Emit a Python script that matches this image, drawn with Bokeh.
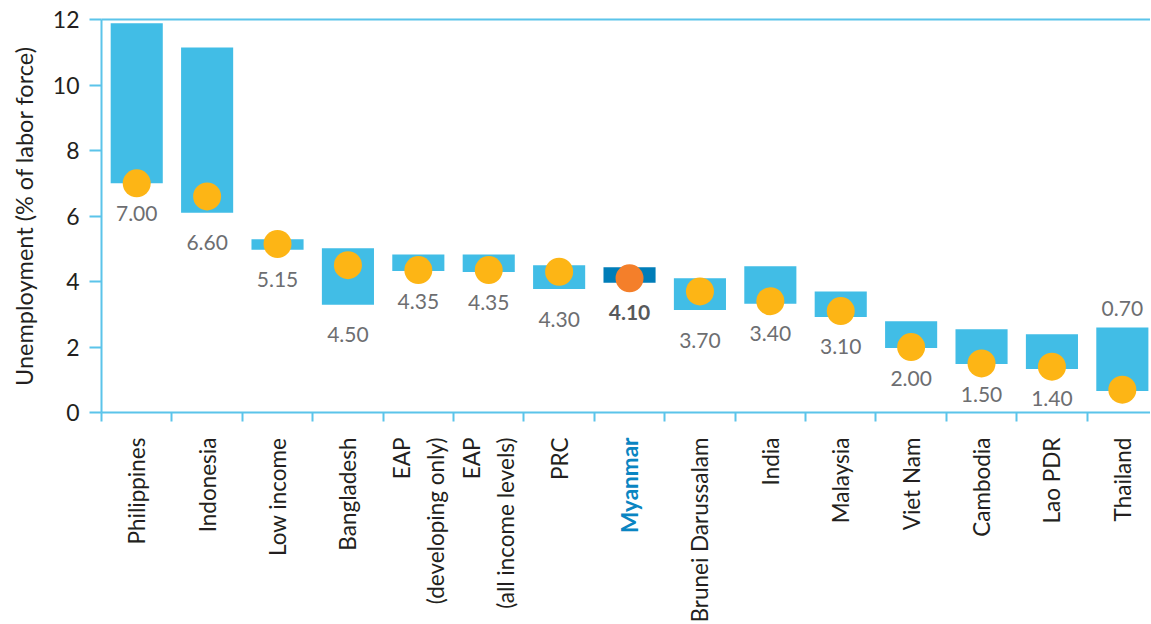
import math
from bokeh.plotting import figure
from bokeh.models import Range1d, FixedTicker, ColumnDataSource
from bokeh.core.properties import value as bval
from bokeh.embed import file_html
from bokeh.resources import INLINE

categories = ["Philippines", "Indonesia", "Low income", "Bangladesh",
              "EAP\n(developing only)", "EAP\n(all income levels)", "PRC",
              "Myanmar", "Brunei Darussalam", "India", "Malaysia", "Viet Nam",
              "Cambodia", "Lao PDR", "Thailand"]
range_low = [7.00, 6.10, 4.97, 3.29, 4.32, 4.29, 3.77, 3.96, 3.13, 3.32, 2.92, 1.97, 1.48, 1.33, 0.66]
range_high = [11.89, 11.15, 5.29, 5.02, 4.83, 4.83, 4.50, 4.44, 4.10, 4.47, 3.70, 2.79, 2.54, 2.39, 2.60]
value = [7.00, 6.60, 5.15, 4.50, 4.35, 4.35, 4.30, 4.10, 3.70, 3.40, 3.10, 2.00, 1.50, 1.40, 0.70]
value_labels = ["7.00", "6.60", "5.15", "4.50", "4.35", "4.35", "4.30", "4.10", "3.70",
                "3.40", "3.10", "2.00", "1.50", "1.40", "0.70"]
y_ticks = [0, 2, 4, 6, 8, 10, 12]
y_title = "Unemployment (% of labor force)"
highlight = "Myanmar"
label_above = {"Thailand"}

FONT = "Lato"
AXIS_BLUE = "#5BC4EA"
BAR = "#41BDE6"
BAR_HI = "#007DB8"
DOT = "#FDB515"
DOT_HI = "#F47F2A"

n = len(categories)
Y_MIN, Y_MAX = 0, 12
X_START, X_END = -1.435, 14.9   # room on the left for the y axis, inside the frame
xc = [i + 0.5 for i in range(n)]
is_hi = [c == highlight for c in categories]
lab_y = [hi if c in label_above else min(lo, v)
         for c, lo, hi, v in zip(categories, range_low, range_high, value)]
lab_off = [-19 if c in label_above else 30 for c in categories]

src = ColumnDataSource(dict(
    x=xc, low=range_low, high=range_high, v=value, lab=value_labels,
    lab_y=lab_y, lab_off=lab_off,
    bar_color=[BAR_HI if h else BAR for h in is_hi],
    dot_color=[DOT_HI if h else DOT for h in is_hi],
    lab_color=["#58595B" if h else "#6D6E71" for h in is_hi],
    lab_style=["bold" if h else "normal" for h in is_hi],
    cat=categories,
    cat_color=["#0A85C2" if h else "#231F20" for h in is_hi],
    cat_y=[Y_MIN] * n,
))

# frame reaches a little above 12 (room for the top tick label) and down into the label area
p = figure(width=1150, height=622, x_range=Range1d(X_START, X_END),
           y_range=Range1d(-6.35, 12.43),
           output_backend="svg", toolbar_location=None,
           min_border_left=0, min_border_top=5, min_border_bottom=2, min_border_right=0)
p.outline_line_color = None
p.grid.visible = False
p.background_fill_color = "white"

p.vbar(x="x", width=0.74, bottom="low", top="high", fill_color="bar_color",
       line_color=None, source=src)
p.scatter(x="x", y="v", size=28, fill_color="dot_color", line_color=None, source=src)
p.text(x="x", y="lab_y", text="lab", y_offset="lab_off", text_align="center",
       text_baseline="middle", text_color="lab_color", text_font_style="lab_style",
       text_font_size="21px", text_font=bval(FONT), source=src)

# category names, rotated, hanging below the x axis
p.text(x="x", y="cat_y", text="cat", y_offset=25, angle=math.pi / 2,
       text_align="right", text_baseline="middle", text_color="cat_color",
       text_font_style="lab_style", text_font_size="22.5px", text_font=bval(FONT),
       text_line_height=1.25, source=src)

# top rule at the y maximum
p.segment(x0=[0], x1=[X_END], y0=[Y_MAX], y1=[Y_MAX], line_color=AXIS_BLUE, line_width=2)

# y axis title
p.text(x=[X_START], y=[(Y_MIN + Y_MAX) / 2], text=[y_title], x_offset=23, angle=math.pi / 2,
       text_align="center", text_baseline="middle", text_color="#231F20",
       text_font_size="23.5px", text_font=bval(FONT))

# x axis at y = 0, ticks at category boundaries
xa = p.xaxis[0]
xa.fixed_location = Y_MIN
xa.bounds = (0, X_END)
xa.ticker = FixedTicker(ticks=list(range(n)))
xa.major_label_overrides = {i: "" for i in range(n)}
xa.major_label_text_font_size = "1px"
xa.axis_line_color = AXIS_BLUE
xa.axis_line_width = 2
xa.major_tick_line_color = AXIS_BLUE
xa.major_tick_line_width = 2
xa.major_tick_out = 9
xa.major_tick_in = 0
xa.minor_tick_line_color = None

ya = p.yaxis[0]
ya.fixed_location = 0
ya.bounds = (Y_MIN, Y_MAX)
ya.ticker = FixedTicker(ticks=y_ticks)
ya.major_label_text_font = FONT
ya.major_label_text_font_size = "23px"
ya.major_label_text_color = "#231F20"
ya.major_label_standoff = 10
ya.axis_line_color = AXIS_BLUE
ya.axis_line_width = 2
ya.major_tick_line_color = AXIS_BLUE
ya.major_tick_line_width = 2
ya.major_tick_out = 12
ya.major_tick_in = 0
ya.minor_tick_line_color = None

open("out.html", "w").write(file_html(p, INLINE))
